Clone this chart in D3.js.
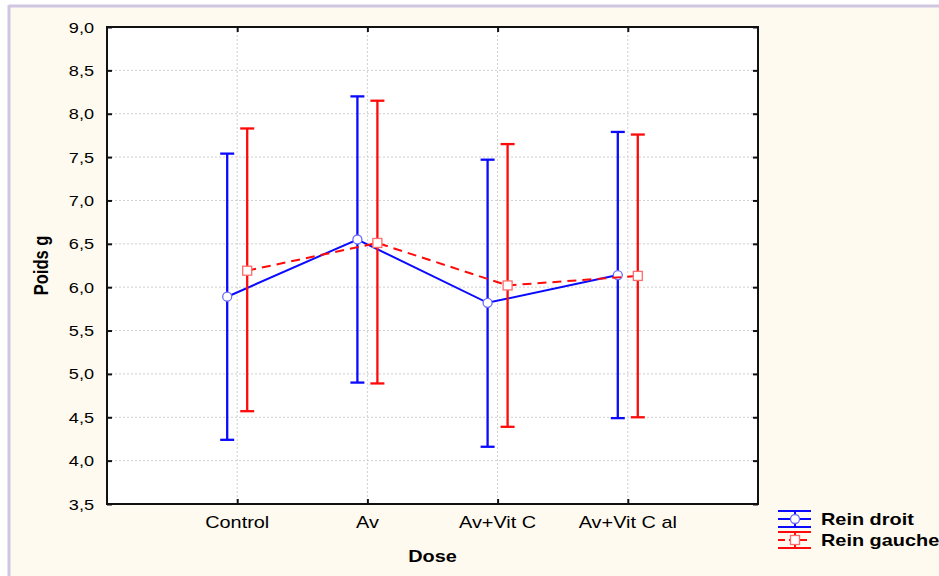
<!DOCTYPE html>
<html>
<head>
<meta charset="utf-8">
<script src="https://cdn.jsdelivr.net/npm/d3@7"></script>
<style>
  body { margin: 0; background: #fff; }
  svg { display: block; font-family: "Liberation Sans", Arial, sans-serif; }
</style>
</head>
<body>
<div class="chart"></div>
<script>
// groups on the x axis
var categories = ["Control", "Av", "Av+Vit C", "Av+Vit C al"];

// Rein droit (blue)
var droitMean = [5.89, 6.55, 5.82, 6.14];
var droitLow  = [4.24, 4.90, 4.16, 4.49];
var droitHigh = [7.54, 8.20, 7.47, 7.79];

// Rein gauche (red)
var gaucheMean = [6.19, 6.51, 6.02, 6.13];
var gaucheLow  = [4.57, 4.89, 4.39, 4.50];
var gaucheHigh = [7.83, 8.15, 7.65, 7.76];

var yTicks = [3.5, 4.0, 4.5, 5.0, 5.5, 6.0, 6.5, 7.0, 7.5, 8.0, 8.5, 9.0];
var seriesNames = ["Rein droit", "Rein gauche"];

var W = 939, H = 576;
var margin = {left: 107, top: 27, right: 181, bottom: 72};
var stretch = 1.17; // text in the picture is a bit wide

var svg = d3.select(".chart").append("svg")
    .attr("width", W)
    .attr("height", H);

// cream panel with purple border top/left
svg.append("rect").attr("x", 9).attr("y", 6).attr("width", W).attr("height", H)
    .style("fill", "#fffaef");
svg.append("line").attr("x1", 9).attr("x2", W).attr("y1", 6).attr("y2", 6)
    .style("stroke", "#cfc6e2").style("stroke-width", 3);
svg.append("line").attr("x1", 9).attr("x2", 9).attr("y1", 5).attr("y2", H)
    .style("stroke", "#cfc6e2").style("stroke-width", 3);

var x = d3.scalePoint().domain(categories).range([margin.left, W - margin.right]).padding(1);
var y = d3.scaleLinear().domain([3.5, 9.0]).range([H - margin.bottom, margin.top]);

var fmt = function(d) { return d3.format(".1f")(d).replace(".", ","); };

function wideText(g, px, py, txt) {
  return g.append("text")
    .attr("transform", "translate(" + px + "," + py + ") scale(" + stretch + ",1)")
    .text(txt);
}

// plot background
svg.append("rect")
    .attr("x", margin.left).attr("y", margin.top)
    .attr("width", W - margin.right - margin.left)
    .attr("height", H - margin.bottom - margin.top)
    .style("fill", "#fff");

// grid
svg.selectAll(".hgrid")
    .data(yTicks.slice(1, -1))
    .enter().append("line")
    .attr("class", "hgrid")
    .attr("x1", margin.left).attr("x2", W - margin.right)
    .attr("y1", function(d) { return y(d); }).attr("y2", function(d) { return y(d); })
    .style("stroke", "#cfcfcf").style("stroke-dasharray", "2,2");

svg.selectAll(".vgrid")
    .data(categories)
    .enter().append("line")
    .attr("class", "vgrid")
    .attr("x1", function(d) { return x(d); }).attr("x2", function(d) { return x(d); })
    .attr("y1", margin.top).attr("y2", H - margin.bottom)
    .style("stroke", "#cfcfcf").style("stroke-dasharray", "2,2");

// axes, ticks pointing inside
svg.append("g")
    .attr("transform", "translate(" + margin.left + ",0)")
    .call(d3.axisRight(y).tickValues(yTicks).tickSize(5).tickFormat(""))
    .call(function(g) { g.select(".domain").remove(); });
svg.append("g")
    .attr("transform", "translate(" + (W - margin.right) + ",0)")
    .call(d3.axisLeft(y).tickValues(yTicks).tickSize(5).tickFormat(""))
    .call(function(g) { g.select(".domain").remove(); });
svg.append("g")
    .attr("transform", "translate(0," + (H - margin.bottom) + ")")
    .call(d3.axisTop(x).tickSize(5).tickFormat(""))
    .call(function(g) { g.select(".domain").remove(); });
svg.append("g")
    .attr("transform", "translate(0," + margin.top + ")")
    .call(d3.axisBottom(x).tickSize(5).tickFormat(""))
    .call(function(g) { g.select(".domain").remove(); });
svg.selectAll(".tick line").style("stroke", "#111").style("stroke-width", 2);

// frame
svg.append("rect")
    .attr("x", margin.left).attr("y", margin.top)
    .attr("width", W - margin.right - margin.left)
    .attr("height", H - margin.bottom - margin.top)
    .style("fill", "none").style("stroke", "#111").style("stroke-width", 2);

// y tick labels
var ylab = svg.append("g").style("font-size", "15.5px").style("fill", "#000")
    .style("text-anchor", "end");
yTicks.forEach(function(t) {
  wideText(ylab, 94, y(t) + 5.5, fmt(t));
});

// x tick labels
var xlab = svg.append("g").style("font-size", "17px").style("fill", "#000")
    .style("text-anchor", "middle");
categories.forEach(function(c) {
  wideText(xlab, x(c), 528, c);
});

// axis titles
wideText(svg.append("g").style("font-size", "17px").style("font-weight", "bold")
    .style("text-anchor", "middle"), (margin.left + W - margin.right) / 2, 562, "Dose");
svg.append("text")
    .attr("transform", "translate(48," + ((margin.top + H - margin.bottom) / 2) + ") rotate(-90) scale(1,1.17)")
    .style("font-size", "16.5px").style("font-weight", "bold").style("text-anchor", "middle")
    .text("Poids g");

// series
function series(mean, low, high, color, dx, dashed, marker, light) {
  var pts = categories.map(function(c, i) {
    return {cx: x(c) + dx, m: mean[i], lo: low[i], hi: high[i]};
  });
  var g = svg.append("g");

  g.selectAll(".bar").data(pts).enter().append("line")
      .attr("x1", function(d) { return d.cx; }).attr("x2", function(d) { return d.cx; })
      .attr("y1", function(d) { return y(d.lo); }).attr("y2", function(d) { return y(d.hi); })
      .style("stroke", color).style("stroke-width", 2.3);
  ["lo", "hi"].forEach(function(k) {
    g.selectAll(".cap" + k).data(pts).enter().append("line")
        .attr("x1", function(d) { return d.cx - 7; }).attr("x2", function(d) { return d.cx + 7; })
        .attr("y1", function(d) { return y(d[k]); }).attr("y2", function(d) { return y(d[k]); })
        .style("stroke", color).style("stroke-width", 2.3);
  });

  g.append("path")
      .datum(pts)
      .attr("d", d3.line().x(function(d) { return d.cx; }).y(function(d) { return y(d.m); }))
      .style("fill", "none").style("stroke", color).style("stroke-width", 2)
      .style("stroke-dasharray", dashed ? "9,6" : null);

  if (marker == "circle") {
    g.selectAll(".mk").data(pts).enter().append("circle")
        .attr("cx", function(d) { return d.cx; }).attr("cy", function(d) { return y(d.m); })
        .attr("r", 4.5)
        .style("fill", "#fff").style("stroke", light).style("stroke-width", 1.3);
  } else {
    g.selectAll(".mk").data(pts).enter().append("rect")
        .attr("x", function(d) { return d.cx - 4.5; }).attr("y", function(d) { return y(d.m) - 4.5; })
        .attr("width", 9).attr("height", 9)
        .style("fill", "#fff").style("stroke", light).style("stroke-width", 1.3);
  }
}

series(droitMean, droitLow, droitHigh, "#0a0aff", -10, false, "circle", "#6b6bff");
series(gaucheMean, gaucheLow, gaucheHigh, "#ff0a0a", 10, true, "square", "#ff6b6b");

// legend
var legend = svg.append("g");
var legendItems = [
  {name: seriesNames[0], color: "#0a0aff", light: "#6b6bff", marker: "circle", y0: 511},
  {name: seriesNames[1], color: "#ff0a0a", light: "#ff6b6b", marker: "square", y0: 532}
];
legendItems.forEach(function(it) {
  var lx = 778, rx = 811, cx = 795;
  legend.append("line").attr("x1", lx).attr("x2", rx).attr("y1", it.y0).attr("y2", it.y0)
      .style("stroke", it.color).style("stroke-width", 2);
  legend.append("line").attr("x1", lx).attr("x2", rx).attr("y1", it.y0 + 16).attr("y2", it.y0 + 16)
      .style("stroke", it.color).style("stroke-width", 2);
  legend.append("line").attr("x1", cx).attr("x2", cx).attr("y1", it.y0).attr("y2", it.y0 + 16)
      .style("stroke", it.color).style("stroke-width", 2);
  legend.append("line").attr("x1", lx).attr("x2", rx).attr("y1", it.y0 + 8).attr("y2", it.y0 + 8)
      .style("stroke", it.color).style("stroke-width", 2)
      .style("stroke-dasharray", it.marker == "square" ? "7,4" : null);
  if (it.marker == "circle") {
    legend.append("circle").attr("cx", cx).attr("cy", it.y0 + 8).attr("r", 4.5)
        .style("fill", "#fff").style("stroke", it.light).style("stroke-width", 1.3);
  } else {
    legend.append("rect").attr("x", cx - 4.5).attr("y", it.y0 + 3.5).attr("width", 9).attr("height", 9)
        .style("fill", "#fff").style("stroke", it.light).style("stroke-width", 1.3);
  }
  wideText(legend.append("g").style("font-size", "17px").style("font-weight", "bold").style("fill", "#000"),
      821, it.y0 + 14, it.name);
});
</script>
</body>
</html>
